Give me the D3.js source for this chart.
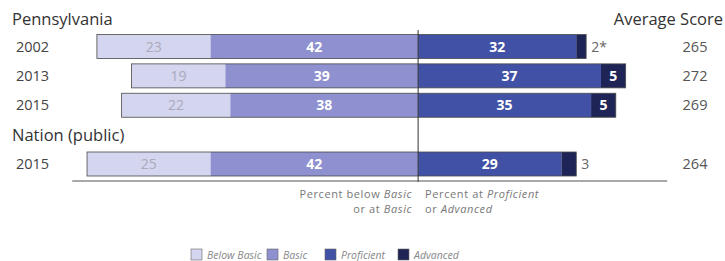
<!DOCTYPE html>
<html>
<head>
<meta charset="utf-8">
<script src="https://cdn.jsdelivr.net/npm/d3@7"></script>
<style>
body { margin: 0; background: #fff; }
svg { display: block; font-family: "Open Sans", sans-serif; }
</style>
</head>
<body>
<div id="chart"></div>
<script>
const rowIds = ['pa2002', 'pa2013', 'pa2015', 'nationHdr', 'nat2015'];
const years = ['2002', '2013', '2015', '2015'];
const barRows = ['pa2002', 'pa2013', 'pa2015', 'nat2015'];
const belowBasic = [23, 19, 22, 25];
const basic = [42, 39, 38, 42];
const proficient = [32, 37, 35, 29];
const advanced = [2, 5, 5, 3];
const advancedLabels = ['2*', '5', '5', '3'];
const scores = [265, 272, 269, 264];
const levels = ['Below Basic', 'Basic', 'Proficient', 'Advanced'];
const colors = ['#d4d5ee', '#8e90cf', '#4151a5', '#1f2456'];

const width = 725, height = 261;
const svg = d3.select('#chart').append('svg')
    .attr('width', width)
    .attr('height', height);

const x = d3.scaleLinear().domain([-70, 50]).range([72.2, 665.2]);
const y = d3.scalePoint().domain(rowIds).range([46.5, 164]);
const barH = 24;

// build segments per row
const rows = barRows.map((id, i) => {
    const b = belowBasic[i], ba = basic[i], p = proficient[i], a = advanced[i];
    return {
        id, i,
        segs: [
            {lvl: 0, x0: -(b + ba), x1: -ba, v: b},
            {lvl: 1, x0: -ba, x1: 0, v: ba},
            {lvl: 2, x0: 0, x1: p, v: p},
            {lvl: 3, x0: p, x1: p + a, v: a}
        ]
    };
});

const g = svg.append('g');

rows.forEach(r => {
    const cy = y(r.id);
    const rg = g.append('g');
    rg.selectAll('rect')
        .data(r.segs)
        .enter().append('rect')
        .attr('x', d => x(d.x0))
        .attr('y', cy - barH / 2)
        .attr('width', d => x(d.x1) - x(d.x0))
        .attr('height', barH)
        .attr('fill', d => colors[d.lvl]);
    // outline
    rg.append('rect')
        .attr('x', x(r.segs[0].x0))
        .attr('y', cy - barH / 2)
        .attr('width', x(r.segs[3].x1) - x(r.segs[0].x0))
        .attr('height', barH)
        .attr('fill', 'none')
        .attr('stroke', '#4a4a4a')
        .attr('stroke-width', 0.8);

    rg.selectAll('text.val')
        .data(r.segs.filter(d => d.v >= 5))
        .enter().append('text')
        .attr('class', 'val')
        .attr('x', d => x((d.x0 + d.x1) / 2))
        .attr('y', cy + 5)
        .attr('text-anchor', 'middle')
        .attr('font-size', 14)
        .attr('font-weight', d => d.lvl === 0 ? 'normal' : 'bold')
        .attr('fill', d => d.lvl === 0 ? '#a9aabb' : '#fff')
        .text(d => d.lvl === 3 ? advancedLabels[r.i] : d.v);

    if (advanced[r.i] < 5) {
        rg.append('text')
            .attr('x', x(r.segs[3].x1) + 5)
            .attr('y', cy + 5)
            .attr('font-size', 14)
            .attr('fill', '#666')
            .text(advancedLabels[r.i]);
    }

    // year and score
    g.append('text')
        .attr('x', 16)
        .attr('y', cy + 5)
        .attr('font-size', 14.5)
        .attr('fill', '#444')
        .text(years[r.i]);
    g.append('text')
        .attr('x', 695)
        .attr('y', cy + 5)
        .attr('text-anchor', 'middle')
        .attr('font-size', 14.5)
        .attr('fill', '#555')
        .text(scores[r.i]);
});

// headers
g.append('text').attr('x', 12).attr('y', 25)
    .attr('font-size', 16.5).attr('fill', '#333').text('Pennsylvania');
g.append('text').attr('x', 12).attr('y', y('nationHdr') + 6)
    .attr('font-size', 16.5).attr('fill', '#333').text('Nation (public)');
g.append('text').attr('x', 723).attr('y', 25).attr('text-anchor', 'end')
    .attr('font-size', 16.5).attr('fill', '#333').text('Average Score');

// zero line and baseline
g.append('line')
    .attr('x1', x(0)).attr('x2', x(0))
    .attr('y1', 30).attr('y2', 182)
    .attr('stroke', '#333').attr('stroke-width', 1);
g.append('line')
    .attr('x1', x.range()[0]).attr('x2', x.range()[1] + 2)
    .attr('y1', 181).attr('y2', 181)
    .attr('stroke', '#555').attr('stroke-width', 1.2);

// axis captions, one text per line
function caption(xPos, yPos, anchor, plain, ital) {
    const t = g.append('text')
        .attr('x', xPos).attr('y', yPos)
        .attr('text-anchor', anchor)
        .attr('font-size', 11).attr('fill', '#777')
        .attr('letter-spacing', 0.6);
    t.append('tspan').text(plain);
    t.append('tspan').attr('font-style', 'italic').text(ital);
}
caption(x(0) - 6, 198, 'end', 'Percent below ', 'Basic');
caption(x(0) - 6, 213, 'end', 'or at ', 'Basic');
caption(x(0) + 7, 198, 'start', 'Percent at ', 'Proficient');
caption(x(0) + 7, 213, 'start', 'or ', 'Advanced');

// legend
const legX = [191, 267, 325, 398];
const leg = g.selectAll('g.leg')
    .data(levels)
    .enter().append('g')
    .attr('class', 'leg')
    .attr('transform', (d, i) => `translate(${legX[i]},249)`);
leg.append('rect')
    .attr('width', 11).attr('height', 11)
    .attr('fill', (d, i) => colors[i])
    .attr('stroke', '#666').attr('stroke-width', 0.6);
leg.append('text')
    .attr('x', 16).attr('y', 10)
    .attr('font-size', 10.5).attr('font-style', 'italic')
    .attr('fill', '#888')
    .text(d => d);
</script>
</body>
</html>
